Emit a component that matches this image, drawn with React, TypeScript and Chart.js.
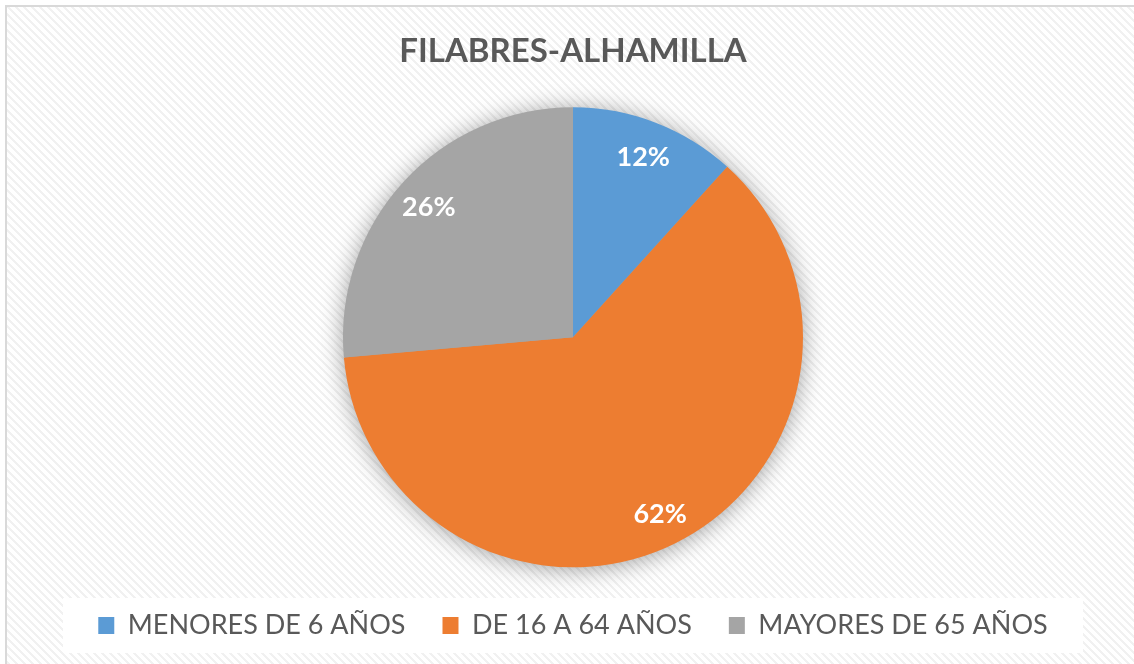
import React, { useEffect, useRef } from "react";
import { Chart, registerables } from "chart.js";

Chart.register(...registerables);

const title = "FILABRES-ALHAMILLA";
const categories = ["MENORES DE 6 AÑOS", "DE 16 A 64 AÑOS", "MAYORES DE 65 AÑOS"];
const values = [11.7, 61.9, 26.4];
const colors = ["#5B9BD5", "#ED7D31", "#A5A5A5"];

function makePattern(ctx: CanvasRenderingContext2D) {
  const c = document.createElement("canvas");
  c.width = 8;
  c.height = 8;
  const p = c.getContext("2d")!;
  p.fillStyle = "#ffffff";
  p.fillRect(0, 0, 8, 8);
  for (let y = 0; y < 8; y++) {
    for (let x = 0; x < 8; x++) {
      const d = (((x - y) % 8) + 8) % 8;
      if (d < 3) {
        p.fillStyle = "#F1F1F1";
        p.fillRect(x, y, 1, 1);
      }
    }
  }
  return ctx.createPattern(c, "repeat");
}

const LEGEND_FONT = 27;

const bgPlugin = {
  id: "bgPlugin",
  beforeDraw(chart: any) {
    const ctx = chart.ctx as CanvasRenderingContext2D;
    const W = chart.width;
    const H = chart.height;
    ctx.save();
    ctx.fillStyle = "#ffffff";
    ctx.fillRect(0, 0, W, H);
    const pat = makePattern(ctx);
    if (pat) {
      ctx.fillStyle = pat;
      ctx.fillRect(7, 7, W - 7, H - 7);
    }
    ctx.fillStyle = "#D9D9D9";
    ctx.fillRect(5, 5, W - 5, 2);
    ctx.fillRect(5, 5, 2, H - 5);
    const lg = chart.legend;
    if (lg) {
      const pad = lg.options.labels.padding;
      const itemTop = lg.top + pad;
      const cx = (lg.left + lg.right) / 2;
      ctx.fillStyle = "#ffffff";
      ctx.fillRect(cx - 510, itemTop - 14, 1020, LEGEND_FONT + 28);
    }
    ctx.restore();
  },
  beforeDatasetsDraw(chart: any) {
    const meta = chart.getDatasetMeta(0);
    if (!meta.data.length) return;
    const arc = meta.data[0];
    const ctx = chart.ctx as CanvasRenderingContext2D;
    ctx.save();
    ctx.shadowColor = "rgba(0,0,0,0.4)";
    ctx.shadowBlur = 24;
    ctx.shadowOffsetY = 2;
    ctx.fillStyle = "#A5A5A5";
    ctx.beginPath();
    ctx.arc(arc.x, arc.y, arc.outerRadius - 1, 0, Math.PI * 2);
    ctx.fill();
    ctx.restore();
  },
  afterDatasetsDraw(chart: any) {
    const meta = chart.getDatasetMeta(0);
    const ctx = chart.ctx as CanvasRenderingContext2D;
    const data = chart.data.datasets[0].data as number[];
    const total = data.reduce((a, b) => a + b, 0);
    ctx.save();
    ctx.fillStyle = "#ffffff";
    ctx.font = "bold 27px Lato";
    ctx.textAlign = "center";
    ctx.textBaseline = "middle";
    meta.data.forEach((el: any, i: number) => {
      const { x, y, startAngle, endAngle, outerRadius } = el.getProps(
        ["x", "y", "startAngle", "endAngle", "outerRadius"],
        true
      );
      const mid = (startAngle + endAngle) / 2;
      const r = outerRadius * 0.85;
      const pct = Math.round((data[i] / total) * 100) + "%";
      ctx.fillText(pct, x + Math.cos(mid) * r, y + Math.sin(mid) * r + 2);
    });
    ctx.restore();
  },
};

export default function App() {
  const ref = useRef<HTMLCanvasElement>(null);
  useEffect(() => {
    if (!ref.current) return;
    const chart = new Chart(ref.current, {
      type: "pie",
      data: {
        labels: categories,
        datasets: [
          {
            data: values,
            backgroundColor: colors,
            borderWidth: 0,
            radius: 230,
          } as any,
        ],
      },
      options: {
        responsive: false,
        animation: false,
        layout: { padding: { left: 12, top: 0, right: 0, bottom: 15 } },
        plugins: {
          title: {
            display: true,
            text: title,
            color: "#595959",
            font: { family: "Lato", size: 33, weight: "bold" },
            padding: { top: 32, bottom: 28 },
          },
          legend: {
            position: "bottom",
            labels: {
              color: "#595959",
              font: { family: "Lato", size: LEGEND_FONT },
              boxWidth: 16,
              boxHeight: 17,
              padding: 37,
            },
          },
          tooltip: { enabled: false },
        },
      },
      plugins: [bgPlugin],
    });
    return () => chart.destroy();
  }, []);
  return (
    <div style={{ position: "absolute", left: 0, top: 0, width: 1134, height: 664 }}>
      <canvas ref={ref} width={1134} height={664} style={{ display: "block" }} />
    </div>
  );
}
